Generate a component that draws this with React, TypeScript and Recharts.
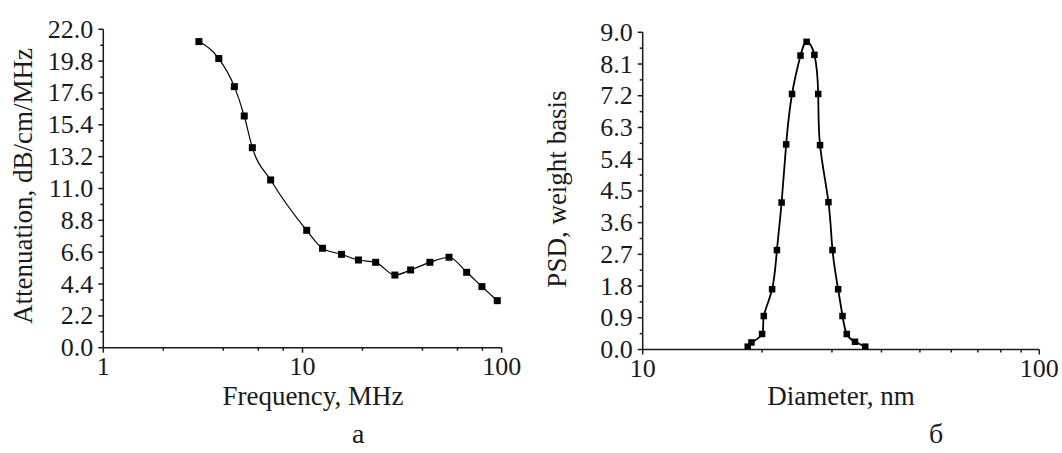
import { LineChart, Line, XAxis, YAxis, Label } from "recharts";

// (a) attenuation spectrum
const freq = [3.02, 3.8, 4.55, 5.1, 5.6, 6.92, 10.5, 12.6, 15.7, 19.1, 23.3, 29.1, 34.9, 43.6, 54.4, 66.7, 79.6, 95];
const atten = [21.15, 19.98, 18.04, 16.01, 13.82, 11.59, 8.11, 6.87, 6.45, 6.06, 5.9, 5.02, 5.37, 5.9, 6.25, 5.21, 4.22, 3.25];
const attenLabels = ["0.0", "2.2", "4.4", "6.6", "8.8", "11.0", "13.2", "15.4", "17.6", "19.8", "22.0"];
const freqMajor = [1, 10, 100];
const freqMinor = [2, 4, 6, 8, 20, 40, 60, 80];

// (б) particle size distribution
const diameter = [18.4, 18.8, 20.0, 20.2, 21.2, 21.8, 22.4, 23.0, 23.8, 25.0, 25.9, 27.1, 27.7, 28.0, 29.4, 30.1, 31.1, 31.9, 32.7, 34.3, 36.4];
const psd = [0.08, 0.2, 0.44, 0.95, 1.71, 2.82, 4.17, 5.82, 7.25, 8.34, 8.73, 8.36, 7.25, 5.8, 4.18, 2.82, 1.71, 0.95, 0.44, 0.22, 0.08];
const psdLabels = ["0.0", "0.9", "1.8", "2.7", "3.6", "4.5", "5.4", "6.3", "7.2", "8.1", "9.0"];
const diamMajor = [10, 100];
const diamMinor = [20, 30, 40, 50, 60, 70, 80, 90];

const FONT = "Liberation Serif, DejaVu Serif, serif";
const INK = "#1a1a1a";

const attenData = freq.map((x, i) => ({ x, y: atten[i] }));
const psdData = diameter.map((x, i) => ({ x, y: psd[i] }));

// majors + half-step minors for y
function yTickList(labels: string[]) {
  const vals = labels.map(Number);
  const out: number[] = [];
  vals.forEach((v, i) => {
    out.push(v);
    if (i < vals.length - 1) out.push(+((v + vals[i + 1]) / 2).toFixed(3));
  });
  return out;
}

const makeXTick = (majors: number[]) => (props: any) => {
  const { x, y, payload } = props;
  const major = majors.includes(payload.value);
  return (
    <g>
      <line x1={x} x2={x} y1={y} y2={y + (major ? 5 : 3)} stroke={INK} strokeWidth={1.5} />
      {major && (
        <text x={x} y={y + 27} textAnchor="middle" fontFamily={FONT} fontSize={26} fill={INK}>
          {payload.value}
        </text>
      )}
    </g>
  );
};

const makeYTick = (labels: string[]) => (props: any) => {
  const { x, y, payload } = props;
  const idx = labels.map(Number).indexOf(payload.value);
  const major = idx >= 0;
  return (
    <g>
      <line x1={x} x2={x - (major ? 5 : 3)} y1={y} y2={y} stroke={INK} strokeWidth={1.5} />
      {major && (
        <text x={x - 10} y={y} textAnchor="end" dominantBaseline="central" fontFamily={FONT} fontSize={26} fill={INK}>
          {labels[idx]}
        </text>
      )}
    </g>
  );
};

const SquareDot = (size: number) => (p: any) => (
  <rect key={p.index} x={p.cx - size / 2} y={p.cy - size / 2} width={size} height={size} fill="#000" />
);

const title = (x: number, y: number, text: string, rotate = false) => () => (
  <text
    x={x}
    y={y}
    textAnchor="middle"
    dominantBaseline="central"
    fontFamily={FONT}
    fontSize={27}
    fill={INK}
    transform={rotate ? `rotate(-90 ${x} ${y})` : undefined}
  >
    {text}
  </text>
);

export default function App() {
  return (
    <div style={{ position: "absolute", left: 0, top: 0, width: 1062, height: 453, background: "#fff" }}>
      <div style={{ position: "absolute", left: 0, top: 0 }}>
        <LineChart width={531} height={453} data={attenData} margin={{ top: 29.3, left: 43.3, right: 29.3, bottom: 65.3 }}>
          <XAxis
            dataKey="x"
            type="number"
            scale="log"
            domain={[1, 100]}
            ticks={[...freqMajor, ...freqMinor].sort((a, b) => a - b)}
            interval={0}
            height={40}
            tickSize={0}
            tickMargin={0}
            tick={makeXTick(freqMajor)}
            axisLine={{ stroke: INK, strokeWidth: 1.5 }}
            allowDataOverflow
          >
            <Label content={title(313, 396, "Frequency, MHz")} />
          </XAxis>
          <YAxis
            type="number"
            domain={[0, 22]}
            ticks={yTickList(attenLabels)}
            interval={0}
            width={60}
            tickSize={0}
            tickMargin={0}
            tick={makeYTick(attenLabels)}
            axisLine={{ stroke: INK, strokeWidth: 1.5 }}
            allowDataOverflow
          >
            <Label content={title(23, 186, "Attenuation, dB/cm/MHz", true)} />
          </YAxis>
          <Line
            type="monotone"
            dataKey="y"
            stroke="#000"
            strokeWidth={1.2}
            dot={SquareDot(7)}
            activeDot={false}
            isAnimationActive={false}
          />
        </LineChart>
      </div>
      <div style={{ position: "absolute", left: 531, top: 0 }}>
        <LineChart width={531} height={453} data={psdData} margin={{ top: 32.3, left: 51.7, right: 22.7, bottom: 63.5 }}>
          <XAxis
            dataKey="x"
            type="number"
            scale="log"
            domain={[10, 100]}
            ticks={[...diamMajor, ...diamMinor].sort((a, b) => a - b)}
            interval={0}
            height={40}
            tickSize={0}
            tickMargin={0}
            tick={makeXTick(diamMajor)}
            axisLine={{ stroke: INK, strokeWidth: 1.5 }}
            allowDataOverflow
          >
            <Label content={title(310, 396, "Diameter, nm")} />
          </XAxis>
          <YAxis
            type="number"
            domain={[0, 9]}
            ticks={yTickList(psdLabels)}
            interval={0}
            width={60}
            tickSize={0}
            tickMargin={0}
            tick={makeYTick(psdLabels)}
            axisLine={{ stroke: INK, strokeWidth: 1.5 }}
            allowDataOverflow
          >
            <Label content={title(26, 189, "PSD, weight basis", true)} />
          </YAxis>
          <Line
            type="natural"
            dataKey="y"
            stroke="#000"
            strokeWidth={1.8}
            dot={SquareDot(6.5)}
            activeDot={false}
            isAnimationActive={false}
          />
        </LineChart>
      </div>
      <div style={{ position: "absolute", left: 352, top: 418, fontFamily: FONT, fontSize: 28, color: INK }}>а</div>
      <div style={{ position: "absolute", left: 929, top: 418, fontFamily: FONT, fontSize: 28, color: INK }}>б</div>
    </div>
  );
}
